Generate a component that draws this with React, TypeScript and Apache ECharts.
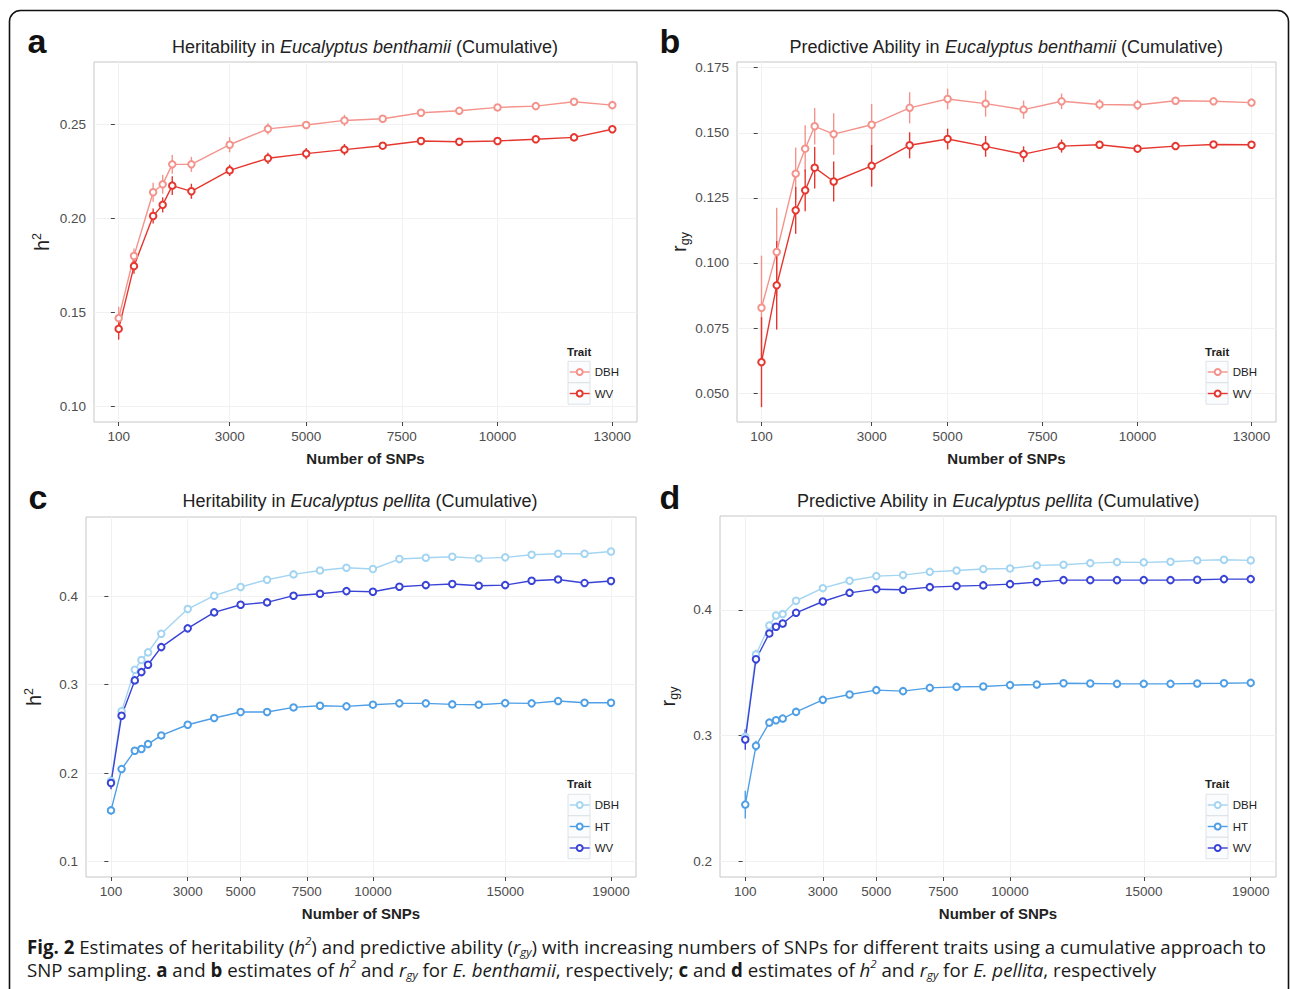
import React, { useEffect, useRef } from 'react';
import * as echarts from 'echarts';

// ---------- data ----------
const xBen = [100, 500, 1000, 1250, 1500, 2000, 3000, 4000, 5000, 6000, 7000, 8000, 9000, 10000, 11000, 12000, 13000];
const xPel = [100, 500, 1000, 1250, 1500, 2000, 3000, 4000, 5000, 6000, 7000, 8000, 9000, 10000, 11000, 12000, 13000, 14000, 15000, 16000, 17000, 18000, 19000];

const xTicksBen = [100, 3000, 5000, 7500, 10000, 13000];
const xTicksPel = [100, 3000, 5000, 7500, 10000, 15000, 19000];
const yTicksA = [0.1, 0.15, 0.2, 0.25];
const yTicksB = [0.05, 0.075, 0.1, 0.125, 0.15, 0.175];
const yTicksC = [0.1, 0.2, 0.3, 0.4];
const yTicksD = [0.2, 0.3, 0.4];

// panel a: heritability, E. benthamii
const aDBH = [0.147, 0.180, 0.2138, 0.218, 0.2286, 0.2286, 0.239, 0.2474, 0.2495, 0.2519, 0.2528, 0.256, 0.257, 0.2588, 0.2595, 0.2618, 0.260];
const aDBHErr = [0.006, 0.004, 0.005, 0.005, 0.005, 0.004, 0.004, 0.003, 0.002, 0.003, 0.002, 0.001, 0.001, 0.001, 0.001, 0.001, 0.001];
const aWV = [0.1413, 0.1746, 0.2012, 0.2071, 0.2173, 0.2143, 0.2254, 0.2318, 0.2343, 0.2364, 0.2385, 0.241, 0.2406, 0.241, 0.2419, 0.2429, 0.2472];
const aWVErr = [0.0057, 0.004, 0.004, 0.004, 0.005, 0.004, 0.003, 0.003, 0.003, 0.003, 0.001, 0.001, 0.001, 0.001, 0.001, 0.001, 0.001];

// panel b: predictive ability, E. benthamii
const bDBH = [0.0828, 0.1042, 0.1343, 0.1439, 0.1525, 0.1495, 0.1531, 0.1596, 0.163, 0.1612, 0.1589, 0.1621, 0.1609, 0.1607, 0.1623, 0.1621, 0.1616];
const bDBHErr = [0.02, 0.017, 0.01, 0.009, 0.007, 0.008, 0.008, 0.006, 0.004, 0.005, 0.0035, 0.003, 0.002, 0.002, 0.0015, 0.001, 0.001];
const bWV = [0.0619, 0.0914, 0.1202, 0.1279, 0.1366, 0.1313, 0.1373, 0.1452, 0.1476, 0.1448, 0.1418, 0.1449, 0.1454, 0.1439, 0.1449, 0.1455, 0.1454];
const bWVErr = [0.0173, 0.017, 0.009, 0.008, 0.008, 0.0077, 0.008, 0.005, 0.004, 0.004, 0.003, 0.0025, 0.0015, 0.0015, 0.0015, 0.001, 0.001];

// panel c: heritability, E. pellita
const cDBH = [0.191, 0.270, 0.317, 0.328, 0.3366, 0.3577, 0.3857, 0.4008, 0.4106, 0.4189, 0.4249, 0.4294, 0.4325, 0.431, 0.4423, 0.4438, 0.4449, 0.443, 0.4442, 0.4472, 0.4483, 0.4483, 0.4509];
const cDBHErr = [0.005, 0.005, 0.004, 0.004, 0.004, 0.004, 0.003, 0.003, 0.002, 0.002, 0.002, 0.002, 0.002, 0.002, 0.002, 0.002, 0.002, 0.002, 0.002, 0.002, 0.002, 0.002, 0.002];
const cHT = [0.1577, 0.2045, 0.2253, 0.2272, 0.2328, 0.2426, 0.2547, 0.2623, 0.2691, 0.2691, 0.2743, 0.2762, 0.2755, 0.2774, 0.2789, 0.2789, 0.2777, 0.2774, 0.2792, 0.2789, 0.2815, 0.2796, 0.2796];
const cHTErr = [0.005, 0.004, 0.003, 0.003, 0.003, 0.003, 0.002, 0.002, 0.002, 0.002, 0.002, 0.002, 0.002, 0.002, 0.002, 0.002, 0.002, 0.002, 0.002, 0.002, 0.002, 0.002, 0.002];
const cWV = [0.1887, 0.2649, 0.3049, 0.3143, 0.3226, 0.3426, 0.3638, 0.3819, 0.3906, 0.3932, 0.4008, 0.403, 0.406, 0.4053, 0.4109, 0.4128, 0.414, 0.4121, 0.4128, 0.4177, 0.4192, 0.4151, 0.4174];
const cWVErr = [0.007, 0.005, 0.004, 0.004, 0.004, 0.004, 0.003, 0.003, 0.002, 0.002, 0.002, 0.002, 0.002, 0.002, 0.002, 0.002, 0.002, 0.002, 0.002, 0.002, 0.002, 0.002, 0.002];

// panel d: predictive ability, E. pellita
const dDBH = [0.299, 0.3645, 0.3875, 0.3955, 0.3966, 0.4072, 0.4172, 0.4231, 0.4268, 0.4276, 0.4302, 0.4313, 0.4324, 0.4329, 0.4353, 0.4358, 0.4371, 0.4379, 0.4377, 0.4382, 0.4393, 0.4398, 0.4393];
const dDBHErr = [0.006, 0.004, 0.003, 0.003, 0.003, 0.003, 0.002, 0.002, 0.002, 0.002, 0.002, 0.002, 0.002, 0.002, 0.002, 0.002, 0.002, 0.002, 0.002, 0.002, 0.002, 0.002, 0.002];
const dHT = [0.2451, 0.2918, 0.3103, 0.3122, 0.3135, 0.3188, 0.3284, 0.3326, 0.3361, 0.3353, 0.3379, 0.3387, 0.339, 0.3401, 0.3406, 0.3416, 0.3414, 0.3411, 0.3411, 0.3411, 0.3414, 0.3416, 0.3419];
const dHTErr = [0.011, 0.004, 0.003, 0.003, 0.003, 0.003, 0.002, 0.002, 0.002, 0.002, 0.002, 0.002, 0.002, 0.002, 0.002, 0.002, 0.002, 0.002, 0.002, 0.002, 0.002, 0.002, 0.002];
const dWV = [0.2968, 0.3607, 0.3812, 0.3865, 0.3891, 0.3976, 0.4066, 0.4135, 0.4164, 0.4159, 0.418, 0.4188, 0.4194, 0.4204, 0.422, 0.4236, 0.4236, 0.4236, 0.4236, 0.4236, 0.4239, 0.4244, 0.4244];
const dWVErr = [0.008, 0.004, 0.003, 0.003, 0.003, 0.003, 0.002, 0.002, 0.002, 0.002, 0.002, 0.002, 0.002, 0.002, 0.002, 0.002, 0.002, 0.002, 0.002, 0.002, 0.002, 0.002, 0.002];

// ---------- styles ----------
const FONT = "'Liberation Sans', Arial, Helvetica, sans-serif";
const CAPFONT = "'Open Sans', 'Noto Sans', sans-serif";
const RED_LIGHT = '#f4938c';
const RED = '#e5372f';
const BLUE_LIGHT = '#a3d5f2';
const BLUE_MID = '#4f9fe6';
const BLUE_DARK = '#3943d6';
const BORDER = '#c6c6c6';
const GRIDLINE = '#f1f1f1';
const TICKTEXT = '#4d4d4d';

type Trait = { name: string; ys: number[]; errs: number[]; color: string };

function panelSeries(idx: number, prefix: string, xs: number[], traits: Trait[]) {
  const out: any[] = [];
  traits.forEach((t) => {
    out.push({
      type: 'custom',
      name: prefix + t.name + ' err',
      xAxisIndex: idx,
      yAxisIndex: idx,
      z: 2,
      silent: true,
      data: xs.map((x, i) => [x, t.ys[i], t.errs[i]]),
      encode: { x: 0, y: 1 },
      renderItem: (params: any, api: any) => {
        const x = api.value(0);
        const y = api.value(1);
        const e = api.value(2);
        const p1 = api.coord([x, y - e]);
        const p2 = api.coord([x, y + e]);
        return {
          type: 'line',
          shape: { x1: p1[0], y1: p1[1], x2: p2[0], y2: p2[1] },
          style: { stroke: t.color, lineWidth: 1.4 },
        };
      },
    });
    out.push({
      type: 'line',
      name: prefix + t.name,
      xAxisIndex: idx,
      yAxisIndex: idx,
      z: 2,
      data: xs.map((x, i) => [x, t.ys[i]]),
      color: t.color,
      symbol: 'emptyCircle',
      symbolSize: 6.5,
      showAllSymbol: true,
      lineStyle: { width: 1.4, color: t.color },
      itemStyle: { borderWidth: 1.2, borderColor: t.color, color: t.color },
      silent: true,
    });
  });
  return out;
}

function xAxis(gridIndex: number, min: number, max: number, ticks: number[]) {
  return {
    type: 'value',
    gridIndex,
    min,
    max,
    axisLine: { show: false },
    axisTick: { show: true, length: 4, lineStyle: { color: '#444', width: 1 }, customValues: ticks },
    axisLabel: {
      customValues: ticks,
      formatter: (v: number) => String(Math.round(v)),
      color: TICKTEXT,
      fontSize: 13.5,
      fontFamily: FONT,
      margin: 7,
    },
    splitLine: { show: true, lineStyle: { color: GRIDLINE, width: 1 } },
    name: 'Number of SNPs',
    nameLocation: 'middle',
    nameGap: 29,
    nameTextStyle: { fontWeight: 'bold', fontSize: 15, color: '#222', fontFamily: FONT },
  };
}

function yAxis(gridIndex: number, min: number, max: number, ticks: number[], digits: number, isH2: boolean) {
  return {
    type: 'value',
    gridIndex,
    min,
    max,
    axisLine: { show: false },
    axisTick: { show: true, length: 4, lineStyle: { color: '#444', width: 1 }, customValues: ticks },
    axisLabel: {
      customValues: ticks,
      formatter: (v: number) => v.toFixed(digits),
      color: TICKTEXT,
      fontSize: 13.5,
      fontFamily: FONT,
      margin: 8,
    },
    splitLine: { show: true, lineStyle: { color: GRIDLINE, width: 1 } },
    name: isH2 ? '{t|h}{s|2}' : '{t|r}{u|gy}',
    nameLocation: 'middle',
    nameGap: 40,
    nameTextStyle: {
      fontSize: 20,
      color: '#222',
      fontFamily: FONT,
      rich: {
        t: { fontSize: 20, fontFamily: FONT, color: '#222', lineHeight: 24 },
        s: { fontSize: 12.5, fontFamily: FONT, color: '#222', lineHeight: 13, verticalAlign: 'top' },
        u: { fontSize: 12.5, fontFamily: FONT, color: '#222', lineHeight: 13, verticalAlign: 'bottom' },
      },
    },
  };
}

function buildOption() {
  const grids = [
    { left: 94, top: 62, width: 543, height: 360 },
    { left: 737, top: 62, width: 539, height: 360 },
    { left: 86, top: 517, width: 550, height: 360 },
    { left: 720, top: 516, width: 556, height: 361 },
  ].map((g) => ({ ...g, show: true, borderColor: BORDER, borderWidth: 1, backgroundColor: '#fff' }));

  const xAxes = [
    xAxis(0, -545, 13645, xTicksBen),
    xAxis(1, -545, 13645, xTicksBen),
    xAxis(2, -845, 19945, xTicksPel),
    xAxis(3, -845, 19945, xTicksPel),
  ];
  const yAxes = [
    yAxis(0, 0.0919, 0.2829, yTicksA, 2, true),
    yAxis(1, 0.0389, 0.1772, yTicksB, 3, false),
    yAxis(2, 0.0823, 0.4899, yTicksC, 1, true),
    yAxis(3, 0.1875, 0.4746, yTicksD, 1, false),
  ];

  const series = [
    ...panelSeries(0, 'a', xBen, [
      { name: 'DBH', ys: aDBH, errs: aDBHErr, color: RED_LIGHT },
      { name: 'WV', ys: aWV, errs: aWVErr, color: RED },
    ]),
    ...panelSeries(1, 'b', xBen, [
      { name: 'DBH', ys: bDBH, errs: bDBHErr, color: RED_LIGHT },
      { name: 'WV', ys: bWV, errs: bWVErr, color: RED },
    ]),
    ...panelSeries(2, 'c', xPel, [
      { name: 'DBH', ys: cDBH, errs: cDBHErr, color: BLUE_LIGHT },
      { name: 'HT', ys: cHT, errs: cHTErr, color: BLUE_MID },
      { name: 'WV', ys: cWV, errs: cWVErr, color: BLUE_DARK },
    ]),
    ...panelSeries(3, 'd', xPel, [
      { name: 'DBH', ys: dDBH, errs: dDBHErr, color: BLUE_LIGHT },
      { name: 'HT', ys: dHT, errs: dHTErr, color: BLUE_MID },
      { name: 'WV', ys: dWV, errs: dWVErr, color: BLUE_DARK },
    ]),
  ];

  const legendBase = {
    orient: 'vertical',
    padding: 0,
    itemWidth: 20,
    itemHeight: 7.5,
    itemGap: 7.5,
    selectedMode: false,
    formatter: (n: string) => n.slice(1),
    itemStyle: { borderWidth: 1.2 },
    lineStyle: { width: 1.4 },
    textStyle: { fontSize: 11.5, lineHeight: 14, color: '#222', fontFamily: FONT, padding: [0, 0, 0, 0] },
  };
  const legendSpecs = [
    { left: 569, top: 365, data: ['aDBH', 'aWV'] },
    { left: 1207, top: 365, data: ['bDBH', 'bWV'] },
    { left: 569, top: 798, data: ['cDBH', 'cHT', 'cWV'] },
    { left: 1207, top: 798, data: ['dDBH', 'dHT', 'dWV'] },
  ];
  const legends = legendSpecs.map((l) => ({ ...legendBase, ...l }));

  const graphics: any[] = [];
  // outer rounded frame
  graphics.push({
    type: 'rect',
    silent: true,
    z: 20,
    shape: { x: 9.5, y: 10.5, width: 1279, height: 1010, r: 11 },
    style: { fill: 'none', stroke: '#111', lineWidth: 1.6 },
  });
  // legend key boxes + titles
  const keyRows = [
    { x: 568, rows: [372, 393.5], ty: 352 },
    { x: 1206, rows: [372, 393.5], ty: 352 },
    { x: 568, rows: [805, 826.5, 848], ty: 784 },
    { x: 1206, rows: [805, 826.5, 848], ty: 784 },
  ];
  keyRows.forEach((k) => {
    k.rows.forEach((r) => {
      graphics.push({
        type: 'rect',
        silent: true,
        z: 3,
        shape: { x: k.x, y: r - 10.75, width: 22, height: 21.5 },
        style: { fill: '#fbfcfd', stroke: '#d6dde3', lineWidth: 0.8 },
      });
    });
    graphics.push({
      type: 'text',
      silent: true,
      z: 5,
      x: k.x - 1,
      y: k.ty,
      style: { text: 'Trait', fontSize: 11.5, fontWeight: 'bold', fontFamily: FONT, fill: '#222', align: 'left', verticalAlign: 'middle' },
    });
  });
  // panel letters
  [
    ['a', 37, 41],
    ['b', 670, 41],
    ['c', 38, 497],
    ['d', 670, 497],
  ].forEach(([t, x, y]) => {
    graphics.push({
      type: 'text',
      silent: true,
      z: 5,
      x: x as number,
      y: y as number,
      style: { text: t as string, fontSize: 34, fontWeight: 'bold', fontFamily: FONT, fill: '#111', align: 'center', verticalAlign: 'middle' },
    });
  });
  // panel titles
  const TS = 18;
  const titleRich = { i: { fontStyle: 'italic', fontSize: TS, fontFamily: FONT, fill: '#222' } };
  [
    ['Heritability in {i|Eucalyptus benthamii} (Cumulative)', 365, 47],
    ['Predictive Ability in {i|Eucalyptus benthamii} (Cumulative)', 1006, 47],
    ['Heritability in {i|Eucalyptus pellita} (Cumulative)', 360, 501],
    ['Predictive Ability in {i|Eucalyptus pellita} (Cumulative)', 998, 501],
  ].forEach(([t, x, y]) => {
    graphics.push({
      type: 'text',
      silent: true,
      z: 5,
      x: x as number,
      y: y as number,
      style: {
        text: t as string,
        fontSize: TS,
        fontFamily: FONT,
        fill: '#222',
        align: 'center',
        verticalAlign: 'middle',
        rich: titleRich,
      },
    });
  });
  // caption
  const capBase = { fontSize: 18.7, fontFamily: CAPFONT, fill: '#1a1a1a', lineHeight: 23 };
  graphics.push({
    type: 'text',
    silent: true,
    z: 5,
    x: 27,
    y: 934.5,
    style: {
      text:
        '{b|Fig. 2} Estimates of heritability ({i|h}{sup|2}) and predictive ability ({i|r}{sub|gy}) with increasing numbers of SNPs for different traits using a cumulative approach to\n' +
        'SNP sampling. {b|a} and {b|b} estimates of {i|h}{sup|2} and {i|r}{sub|gy} for {i|E. benthamii}, respectively; {b|c} and {b|d} estimates of {i|h}{sup|2} and {i|r}{sub|gy} for {i|E. pellita}, respectively',
      ...capBase,
      align: 'left',
      verticalAlign: 'top',
      rich: {
        b: { ...capBase, fontWeight: 'bold' },
        i: { ...capBase, fontStyle: 'italic' },
        sup: { fontSize: 11.5, fontFamily: CAPFONT, fill: '#1a1a1a', fontStyle: 'italic', lineHeight: 17.5, verticalAlign: 'top' },
        sub: { fontSize: 11.5, fontFamily: CAPFONT, fill: '#1a1a1a', fontStyle: 'italic', lineHeight: 16.5, verticalAlign: 'bottom' },
      },
    },
  });

  return {
    animation: false,
    backgroundColor: '#fff',
    grid: grids,
    xAxis: xAxes,
    yAxis: yAxes,
    legend: legends,
    series,
    graphic: graphics,
  };
}

export default function App() {
  const ref = useRef<HTMLDivElement>(null);
  useEffect(() => {
    if (!ref.current) return;
    const chart = echarts.init(ref.current, null, { renderer: 'svg' });
    chart.setOption(buildOption() as any);
    return () => chart.dispose();
  }, []);
  return (
    <div
      ref={ref}
      style={{ position: 'absolute', left: 0, top: 0, width: 1290, height: 989, background: '#fff' }}
    />
  );
}
